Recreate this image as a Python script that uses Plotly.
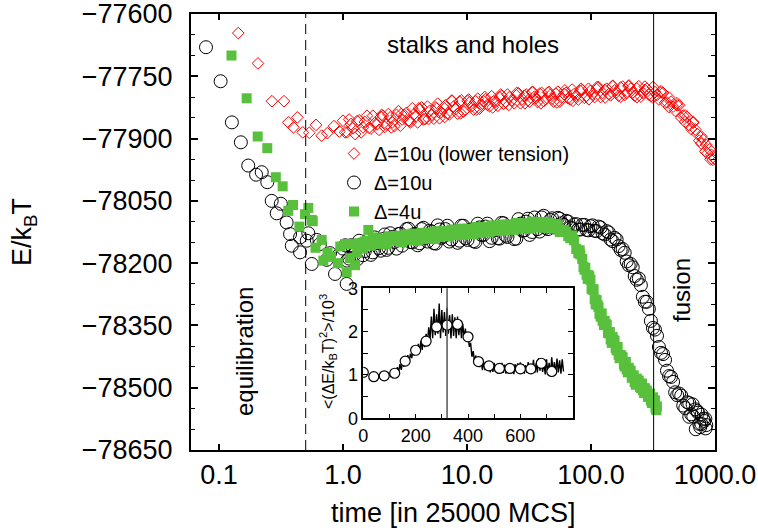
import plotly.graph_objects as go

# ---------------- main panel data ----------------
red_x = [0.143, 0.206, 0.267, 0.334, 0.362, 0.398, 0.428, 0.473, 0.535, 0.606, 0.673, 0.747, 0.846, 0.934,
         1.0, 1.08, 1.16, 1.25, 1.35, 1.45, 1.56, 1.68, 1.8, 1.95, 2.1, 2.25, 2.4, 2.6, 2.8, 3.0, 3.25, 3.5, 3.75, 4.0,
         4.3, 4.6, 5.0, 5.4, 5.8, 6.2, 6.7, 7.2, 7.8, 8.4, 9.0, 9.7, 10.5, 11.3, 12.2, 13.1, 14.1, 15.2, 16.4, 17.7,
         19.0, 20.5, 22, 24, 26, 28, 30, 32, 35, 37, 40, 43, 47, 50, 54, 58, 63, 68, 73, 79, 85, 92, 99, 107, 115,
         124, 134, 144, 155, 167, 180, 194, 209, 225, 243, 262, 282, 304, 328, 353, 381, 410, 442, 477, 514, 554,
         597, 643, 693, 747, 805, 868, 935, 990]
red_y = [-77646, -77719, -77810, -77810, -77861, -77873, -77849, -77885, -77886, -77867, -77893, -77887, -77870, -77883,
         -77857, -77885, -77865, -77889, -77856, -77873, -77845, -77876, -77863, -77879,
         -77845, -77866, -77849, -77870, -77834, -77854, -77838, -77861, -77841, -77861,
         -77825, -77853, -77833, -77852, -77816, -77836, -77820, -77842, -77823, -77840,
         -77808, -77831, -77813, -77830, -77804, -77818, -77805, -77822, -77810, -77821,
         -77797, -77812, -77800, -77815, -77791, -77805, -77794, -77811, -77799, -77812,
         -77790, -77805, -77795, -77811, -77787, -77801, -77790, -77806, -77793, -77806,
         -77783, -77797, -77785, -77800, -77776, -77790, -77780, -77796, -77784, -77797,
         -77775, -77790, -77780, -77797, -77774, -77790, -77780, -77798, -77788, -77806,
         -77790, -77813, -77811, -77833, -77820, -77845, -77848, -77877, -77878, -77905,
         -77903, -77935, -77939, -77948]
red_x_mid = [1.04, 1.12, 1.2, 1.3, 1.4, 1.5, 1.62, 1.74, 1.88, 2.02, 2.17, 2.32, 2.5, 2.7, 2.9, 3.12, 3.37, 3.62,
             3.87, 4.15, 4.45, 4.8, 5.2, 5.6, 6.0, 6.45, 6.95, 7.5, 8.1, 8.7, 9.35, 10.1, 10.9, 11.7, 12.6, 13.6,
             14.6, 15.8, 17, 18.3, 19.7, 21.2, 23, 25, 27, 29, 31, 33.5, 36, 38.5, 41.5, 45, 48.5, 52, 56, 60.5,
             65.5, 70.5, 76, 82, 88.5, 95.5, 103, 111, 119.5, 129, 139, 149.5, 161, 173.5, 187, 201.5, 217, 234,
             252.5, 272, 293, 316, 340.5, 367, 395.5, 426, 459.5, 495.5, 534, 575.5, 620, 668, 720, 776, 836, 901, 962]
red_y_mid = [-77885, -77854, -77875, -77858, -77885, -77860, -77874, -77845, -77866, -77848, -77872, -77841, -77861,
             -77843, -77869, -77843, -77857, -77827, -77847, -77830, -77854, -77823, -77843, -77825, -77851, -77825,
             -77839, -77809, -77829, -77811, -77835, -77809, -77822, -77810, -77828, -77810, -77819, -77798, -77812,
             -77800, -77816, -77794, -77808, -77796, -77815, -77797, -77808, -77788, -77803, -77792, -77810, -77789,
             -77804, -77792, -77811, -77793, -77803, -77782, -77797, -77785, -77802, -77780, -77793, -77781, -77800,
             -77783, -77793, -77773, -77788, -77777, -77795, -77774, -77789, -77779, -77799, -77783, -77794, -77776,
             -77795, -77789, -77814, -77801, -77823, -77820, -77850, -77844, -77868, -77860, -77889, -77895, -77931,
             -77926, -77951]
red_x_extra = [2.05, 2.45, 2.95, 3.45, 4.1, 4.9, 5.7, 6.6, 7.6, 8.9, 10.3, 12, 13.9, 16.1, 18.7, 21.7, 25.2, 29.3,
               34, 39.4, 45.8, 53.1, 61.6, 71.5, 83, 96.3, 112, 130, 150, 174, 202, 235, 272, 316, 367, 426, 494,
               574, 666, 773, 850, 920]
red_y_extra = [-77843, -77873, -77841, -77858, -77827, -77853, -77828, -77848, -77809, -77839, -77806, -77830,
               -77800, -77825, -77794, -77819, -77790, -77815, -77788, -77815, -77788, -77813, -77784, -77809,
               -77780, -77805, -77776, -77801, -77774, -77799, -77772, -77800, -77775, -77801, -77786, -77824,
               -77815, -77860, -77862, -77912, -77915, -77950]

circ_x = [0.0785, 0.103, 0.127, 0.150, 0.172, 0.199, 0.221, 0.245, 0.266, 0.292, 0.315, 0.351, 0.374, 0.386,
          0.450, 0.450, 0.510, 0.525, 0.560, 0.614, 0.652, 0.739, 0.786, 0.862, 0.93, 1.07,
          1.0, 1.08, 1.16, 1.25, 1.35, 1.45, 1.56, 1.68, 1.8, 1.95, 2.1, 2.25, 2.4, 2.6, 2.8, 3.0, 3.25, 3.5, 3.75, 4.0,
          4.3, 4.6, 5.0, 5.4, 5.8, 6.2, 6.7, 7.2, 7.8, 8.4, 9.0, 9.7, 10.5, 11.3, 12.2, 13.1, 14.1, 15.2, 16.4, 17.7,
          19.0, 20.5, 22, 24, 26, 28, 30, 32, 35, 37, 40, 43, 47, 50, 54, 58, 63, 68, 73, 79, 85, 92, 99, 107, 115,
          124, 134, 144, 155, 167, 180, 194, 209, 225, 243, 262, 282, 304, 328, 353, 381, 410, 442, 477, 514, 554,
          597, 643, 693, 747, 805, 850,
          620, 660, 700, 730, 760, 780, 820, 840]
circ_y = [-77680, -77762, -77861, -77909, -77965, -77987, -77981, -78005, -78050, -78080, -78057, -78102, -78130, -78158,
          -78138, -78174, -78146, -78128, -78202, -78144, -78154, -78192, -78176, -78226, -78180, -78250,
          -78165, -78194, -78157, -78178, -78146, -78181, -78159, -78180, -78138, -78164,
          -78142, -78168, -78128, -78149, -78130, -78158, -78118, -78149, -78130, -78157,
          -78118, -78139, -78122, -78152, -78109, -78139, -78118, -78148, -78125, -78151,
          -78110, -78140, -78120, -78147, -78105, -78132, -78112, -78147, -78121, -78140,
          -78103, -78134, -78113, -78142, -78094, -78122, -78100, -78132, -78090, -78118,
          -78090, -78115, -78096, -78114, -78091, -78104, -78098, -78114, -78107, -78119,
          -78108, -78120, -78111, -78122, -78112, -78128, -78123, -78143, -78139, -78159,
          -78166, -78196, -78202, -78231, -78237, -78281, -78293, -78339, -78360, -78402,
          -78419, -78459, -78474, -78511, -78514, -78543, -78535, -78564, -78552, -78587,
          -78575, -78590,
          -78570, -78540, -78600, -78560, -78595, -78565, -78580, -78598]
circ_x_mid = [1.04, 1.12, 1.2, 1.3, 1.4, 1.5, 1.62, 1.74, 1.88, 2.02, 2.17, 2.32, 2.5, 2.7, 2.9, 3.12, 3.37, 3.62,
              3.87, 4.15, 4.45, 4.8, 5.2, 5.6, 6.0, 6.45, 6.95, 7.5, 8.1, 8.7, 9.35, 10.1, 10.9, 11.7, 12.6, 13.6,
              14.6, 15.8, 17, 18.3, 19.7, 21.2, 23, 25, 27, 29, 31, 33.5, 36, 38.5, 41.5, 45, 48.5, 52, 56, 60.5,
              65.5, 70.5, 76, 82, 88.5, 95.5, 103, 111, 119.5, 129, 139, 149.5, 161, 173.5, 187, 201.5, 217, 234,
              252.5, 272, 293, 316, 340.5, 367, 395.5, 426, 459.5, 495.5, 534, 575.5, 620, 668, 720, 776, 836]
circ_y_mid = [-78157, -78189, -78163, -78191, -78155, -78171, -78143, -78174, -78152, -78170, -78131, -78163, -78137,
              -78165, -78129, -78145, -78117, -78150, -78131, -78152, -78115, -78148, -78124, -78153, -78119, -78136,
              -78110, -78143, -78125, -78146, -78110, -78144, -78119, -78149, -78114, -78132, -78105, -78139, -78120,
              -78141, -78104, -78137, -78112, -78141, -78105, -78121, -78093, -78125, -78105, -78124, -78086, -78118,
              -78092, -78111, -78093, -78108, -78100, -78116, -78106, -78119, -78108, -78121, -78109, -78123, -78114,
              -78131, -78126, -78147, -78143, -78168, -78175, -78205, -78210, -78240, -78253, -78293, -78310, -78356,
              -78375, -78416, -78433, -78472, -78486, -78518, -78519, -78549, -78537, -78569, -78556, -78587, -78575]

sq_x = [0.126, 0.167, 0.205, 0.245, 0.287, 0.326, 0.362, 0.395, 0.445, 0.494, 0.525, 0.56, 0.57, 0.60, 0.673, 0.694,
        0.75, 0.80, 0.91, 0.95, 1.04, 1.07, 1.14, 1.21, 1.25, 1.3, 1.6,
        1.35, 1.45, 1.56, 1.68, 1.8, 1.95, 2.1, 2.25, 2.4, 2.6, 2.8, 3.0, 3.25, 3.5, 3.75, 4.0, 4.3, 4.6, 5.0, 5.4,
        5.8, 6.2, 6.7, 7.2, 7.8, 8.4, 9.0, 9.7, 10.5, 11.3, 12.2, 13.1, 14.1, 15.2, 16.4, 17.7, 19.0, 20.5, 22, 24,
        26, 28, 30, 32, 35, 37, 40, 43, 47, 50, 54, 58, 63, 68, 73, 79, 85, 92, 99, 107, 115, 124, 134, 144, 155,
        167, 180, 194, 209, 225, 243, 262, 282, 304, 328, 337, 340]
sq_y = [-77700, -77803, -77895, -77923, -77993, -78015, -78074, -78060, -78112, -78082, -78067, -78096, -78099, -78163,
        -78144, -78194, -78175, -78185, -78200, -78160, -78154, -78222, -78188, -78154, -78205, -78175, -78120,
        -78152, -78165, -78146, -78158, -78138, -78153, -78141, -78154, -78135, -78146, -78135, -78150, -78131,
        -78144, -78133, -78146, -78127, -78138, -78127, -78142, -78123, -78134, -78123, -78136, -78121, -78132,
        -78117, -78130, -78118, -78130, -78113, -78124, -78113, -78126, -78112, -78122, -78107, -78119, -78108,
        -78120, -78103, -78114, -78104, -78117, -78102, -78113, -78101, -78114, -78103, -78117, -78110, -78125,
        -78124, -78140, -78145, -78176, -78190, -78228, -78240, -78287, -78306, -78339, -78349, -78384, -78387,
        -78421, -78427, -78456, -78460, -78487, -78483, -78506, -78507, -78531, -78531, -78554, -78545]
sq_x_mid = [1.4, 1.5, 1.62, 1.74, 1.88, 2.02, 2.17, 2.32, 2.5, 2.7, 2.9, 3.12, 3.37, 3.62, 3.87, 4.15, 4.45, 4.8,
            5.2, 5.6, 6.0, 6.45, 6.95, 7.5, 8.1, 8.7, 9.35, 10.1, 10.9, 11.7, 12.6, 13.6, 14.6, 15.8, 17, 18.3, 19.7,
            21.2, 23, 25, 27, 29, 31, 33.5, 36, 38.5, 41.5, 45, 48.5, 52, 56, 60.5, 65.5, 70.5, 76, 82, 88.5, 95.5,
            103, 111, 119.5, 129, 139, 149.5, 161, 173.5, 187, 201.5, 217, 234, 252.5, 272, 293, 316, 334]
sq_y_mid = [-78164, -78148, -78154, -78141, -78153, -78143, -78152, -78137, -78144, -78134, -78147, -78134, -78141,
            -78129, -78142, -78132, -78142, -78127, -78134, -78124, -78137, -78124, -78131, -78119, -78132, -78122,
            -78132, -78117, -78124, -78114, -78127, -78114, -78121, -78109, -78122, -78112, -78122, -78107, -78114,
            -78104, -78117, -78105, -78112, -78100, -78114, -78104, -78115, -78102, -78112, -78106, -78125, -78120,
            -78135, -78133, -78166, -78179, -78216, -78229, -78264, -78289, -78329, -78339, -78369, -78378, -78410,
            -78421, -78449, -78452, -78475, -78478, -78501, -78501, -78522, -78523, -78551]
sq_x_extra = [81, 87, 90, 94, 97, 101, 105, 109, 113, 117, 122, 127, 132, 137, 142, 147, 152, 158, 164, 170, 177,
              184, 191, 198, 205, 213, 221, 230, 239, 248, 258, 268, 278, 288, 299, 310, 322, 331]
sq_y_extra = [-78169, -78209, -78211, -78238, -78232, -78262, -78263, -78299, -78301, -78322, -78321, -78349, -78347,
              -78368, -78366, -78392, -78385, -78405, -78402, -78429, -78425, -78444, -78438, -78463, -78458, -78476,
              -78470, -78493, -78483, -78498, -78490, -78513, -78507, -78522, -78514, -78537, -78530, -78548]

y_ticks = [-77600, -77750, -77900, -78050, -78200, -78350, -78500, -78650]
y_labels = ["\u221277600", "\u221277750", "\u221277900", "\u221278050", "\u221278200", "\u221278350",
            "\u221278500", "\u221278650"]
x_ticks = [0.1, 1, 10, 100, 1000]
x_labels = ["0.1", "1.0", "10.0", "100.0", "1000.0"]

# ---------------- inset data ----------------
ins_circ_x = [0, 40, 80, 120, 160, 200, 240, 280, 320, 360, 400, 440, 480, 520, 560, 600, 640, 680, 720]
ins_circ_y = [1.06, 0.96, 0.98, 1.04, 1.32, 1.57, 1.78, 2.11, 2.15, 2.17, 1.88, 1.31, 1.21, 1.15, 1.15, 1.14,
              1.14, 1.27, 1.08]
ins_line_x = [100, 105, 110, 115, 120, 125, 130, 135, 140, 145, 150, 155, 160, 165, 170, 175, 180, 185, 190, 195,
              200, 205, 210, 215, 220, 225, 230, 235, 240, 245, 250, 255, 260, 265, 270, 275, 280, 285, 290, 295,
              300, 305, 310, 315, 320, 325, 330, 335, 340, 345, 350, 355, 360, 365, 370, 375, 380, 385, 390, 395,
              400, 405, 410, 415, 420, 425, 430, 435, 440, 445, 450, 455, 460, 465, 470, 475, 480, 485, 490, 495,
              500, 505, 510, 515, 520, 525, 530, 535, 540, 545, 550, 555, 560, 565, 570, 575, 580, 585, 590, 595,
              600, 605, 610, 615, 620, 625, 630, 635, 640, 645, 650, 655, 660, 665, 670, 675, 680, 685, 690, 695,
              700, 705, 710, 715, 720, 725, 730, 735, 740, 745, 750, 755, 760, 765]
ins_line_y = [1.05, 0.95, 1.10, 0.99, 1.11, 1.00, 1.18, 1.07, 1.25, 1.12, 1.30, 1.19, 1.39, 1.28, 1.46, 1.31, 1.49,
              1.39, 1.57, 1.45,
              1.65, 1.48, 1.72, 1.54, 1.79, 1.58, 1.85, 1.64, 1.95, 1.75, 2.10, 1.83,
              2.35, 1.85, 2.53, 1.92, 2.40, 1.95, 2.65, 1.85, 2.50, 1.98, 2.45, 1.90, 2.55, 1.95, 2.38, 1.84, 2.40,
              1.90, 2.33, 1.85, 2.35, 1.92, 2.27, 1.85, 2.18, 1.85, 2.07, 1.78, 1.97,
              1.65, 1.74, 1.42, 1.55, 1.30, 1.45, 1.22, 1.38,
              1.18, 1.35, 1.11, 1.30, 1.11, 1.32, 1.11, 1.28, 1.06, 1.25, 1.07, 1.28, 1.07, 1.24, 1.03, 1.25, 1.07,
              1.28, 1.05, 1.24, 1.03, 1.25, 1.07, 1.27, 1.05, 1.23, 1.02, 1.25, 1.07, 1.27, 1.05, 1.29, 1.06, 1.25,
              1.03, 1.23, 1.05, 1.30, 1.07, 1.25, 1.03, 1.35, 1.05, 1.27, 1.06, 1.39, 1.10, 1.33, 1.07, 1.28, 1.01,
              1.36, 1.06, 1.28, 1.02, 1.41, 1.06, 1.30, 1.04, 1.38, 1.06, 1.34, 1.03, 1.36, 1.08]
ins_x_ticks = [0, 200, 400, 600]

FONT = "Liberation Sans, Arial, sans-serif"
GREEN = "#58c03c"

fig = go.Figure()
fig.add_trace(go.Scatter(x=red_x + red_x_mid + red_x_extra, y=red_y + red_y_mid + red_y_extra, mode="markers",
                         name="\u0394=10u (lower tension)",
                         marker=dict(symbol="diamond-open", size=9, color="#ff0000", line=dict(width=1))))
fig.add_trace(go.Scatter(x=circ_x + circ_x_mid, y=circ_y + circ_y_mid, mode="markers", name="\u0394=10u",
                         marker=dict(symbol="circle-open", size=13, color="black", line=dict(width=1))))
fig.add_trace(go.Scatter(x=sq_x + sq_x_mid + sq_x_extra, y=sq_y + sq_y_mid + sq_y_extra, mode="markers",
                         name="\u0394=4u",
                         marker=dict(symbol="square", size=10, color=GREEN, line=dict(width=0))))

fig.add_trace(go.Scatter(x=ins_line_x, y=ins_line_y, mode="lines", xaxis="x2", yaxis="y2", showlegend=False,
                         line=dict(color="black", width=1.4)))
fig.add_trace(go.Scatter(x=ins_circ_x, y=ins_circ_y, mode="markers", xaxis="x2", yaxis="y2", showlegend=False,
                         marker=dict(symbol="circle", size=10, color="white", line=dict(color="black", width=1.2))))

W, H = 758, 531
L, R, T, B = 191, 43, 14, 81
pw, ph = W - L - R, H - T - B


def px(xp):
    return (xp - L) / pw


def py(yp):
    return (H - B - yp) / ph


fig.update_layout(
    template="none",
    width=W, height=H,
    margin=dict(l=L, r=R, t=T, b=B, pad=0, autoexpand=False),
    paper_bgcolor="white", plot_bgcolor="white",
    font=dict(family=FONT, color="black"),
    xaxis=dict(type="log", range=[-1.226, 3], domain=[0, 1], tickmode="array", tickvals=x_ticks, ticktext=x_labels,
               ticks="inside", ticklen=6, tickwidth=1.5, tickcolor="black", mirror="allticks", showline=True,
               linecolor="black", linewidth=2, showgrid=False, zeroline=False, tickfont=dict(size=27),
               ticklabelstandoff=0, automargin=False, ticklabeloverflow="allow"),
    yaxis=dict(range=[-78650, -77600], domain=[0, 1], tickmode="array", tickvals=y_ticks, ticktext=y_labels,
               ticks="inside", ticklen=7, tickwidth=1.5, tickcolor="black", mirror="allticks", showline=True,
               linecolor="black", linewidth=2, showgrid=False, zeroline=False, tickfont=dict(size=27),
               ticklabelstandoff=11, automargin=False, ticklabeloverflow="allow",
               minor=dict(tick0=-77600, dtick=50, ticks="inside", ticklen=4, tickwidth=1.2, tickcolor="black",
                          showgrid=False)),
    xaxis2=dict(domain=[px(363.3), px(572.7)], anchor="y2", range=[0, 800], tickmode="array", tickvals=ins_x_ticks,
                ticks="inside", ticklen=5, tickwidth=1, tickcolor="black", mirror="allticks", showline=True,
                linecolor="black", linewidth=1.5, showgrid=False, zeroline=False, tickfont=dict(size=18),
                automargin=False, ticklabeloverflow="allow",
                minor=dict(tick0=0, dtick=100, ticks="inside", ticklen=5, tickwidth=1, tickcolor="black",
                           showgrid=False)),
    yaxis2=dict(domain=[py(418.3), py(288.3)], anchor="x2", range=[0, 3], tick0=0, dtick=1,
                ticks="inside", ticklen=5, tickwidth=1, tickcolor="black", mirror="allticks", showline=True,
                linecolor="black", linewidth=1.5, showgrid=False, zeroline=False, tickfont=dict(size=18),
                automargin=False, ticklabeloverflow="allow",
                minor=dict(tick0=0, dtick=0.5, ticks="inside", ticklen=5, tickwidth=1, tickcolor="black",
                           showgrid=False)),
    legend=dict(x=px(334), y=py(134), xanchor="left", yanchor="top", bgcolor="rgba(0,0,0,0)",
                font=dict(size=20), traceorder="normal", itemwidth=30, tracegroupgap=0),
    showlegend=True,
)

fig.add_shape(type="line", xref="x", yref="paper", x0=0.5, x1=0.5, y0=0, y1=1,
              line=dict(color="black", width=1, dash="10px,6px"), layer="above")
fig.add_shape(type="line", xref="x", yref="paper", x0=320, x1=320, y0=0, y1=1,
              line=dict(color="black", width=1), layer="above")
fig.add_shape(type="line", xref="x2", yref="y2 domain", x0=320, x1=320, y0=0, y1=1,
              line=dict(color="#555555", width=1.5), layer="above")

ann = [
    dict(text="stalks and holes", x=px(473), y=py(45), size=24, angle=0),
    dict(text="equilibration", x=px(244), y=py(352), size=24, angle=-90),
    dict(text="fusion", x=px(681), y=py(290), size=24, angle=-90),
    dict(text="E/k<sub>B</sub>T", x=px(24), y=py(232), size=27, angle=-90),
    dict(text="time [in 25000 MCS]", x=px(453), y=py(513), size=27, angle=0),
    dict(text="<(\u0394E/k<sub>B</sub>T)<sup>2</sup>>/10<sup>3</sup>", x=px(328), y=py(352), size=16, angle=-90),
]
for a in ann:
    fig.add_annotation(text=a["text"], x=a["x"], y=a["y"], xref="paper", yref="paper", showarrow=False,
                       xanchor="center", yanchor="middle", textangle=a["angle"],
                       font=dict(size=a["size"], family=FONT, color="black"))

fig.write_html("out.html")
